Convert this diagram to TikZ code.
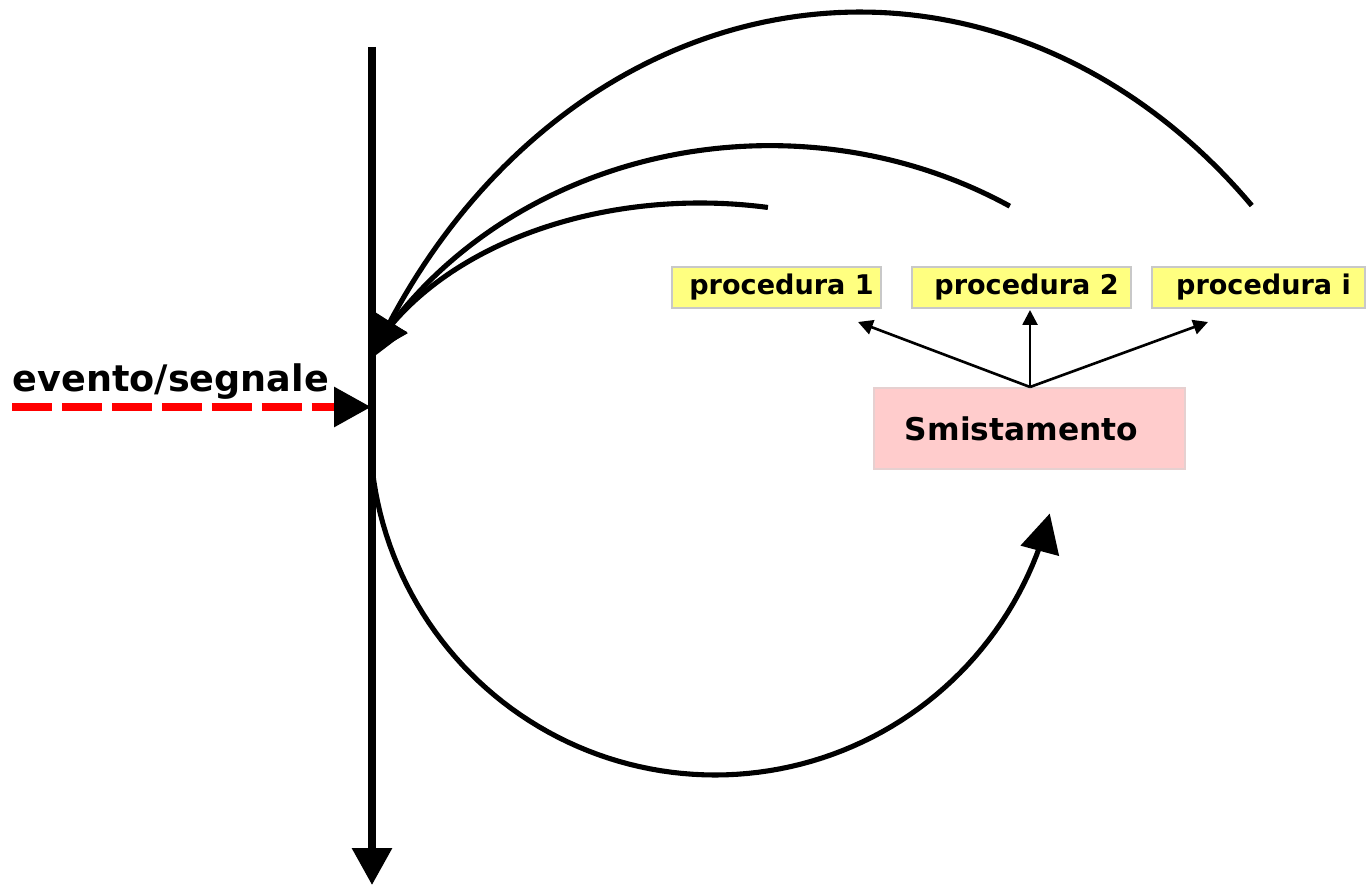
\documentclass[tikz,border=0pt]{standalone}
\usepackage{fontspec}
\setmainfont{DejaVu Sans}
\usetikzlibrary{arrows.meta}
\definecolor{procfill}{HTML}{FFFF80}
\definecolor{procline}{HTML}{C8C8C8}
\definecolor{smfill}{HTML}{FFCCCC}
\definecolor{smline}{HTML}{E6D0D0}
\begin{document}
\begin{tikzpicture}[x=0.01cm,y=-0.01cm,
  axisline/.style={line width=2pt,-{Triangle[length=10.5pt,width=11pt]}},
  loopline/.style={line width=1.45pt,-{Triangle[length=11pt,width=11pt]}},
  signal/.style={red,line width=2pt,dash pattern=on 11.4pt off 2.8pt,
    -{Triangle[length=10.5pt,width=11pt,color=black]}},
  thinarrow/.style={line width=0.75pt,-{Triangle[length=4.2pt,width=4.2pt]}},
  procbox/.style={draw=procline,fill=procfill,line width=0.6pt,inner sep=0pt,
    minimum height=0.41cm,font=\bfseries\fontsize{7.7}{9}\selectfont},
  smbox/.style={draw=smline,fill=smfill,line width=0.6pt,inner sep=0pt,
    minimum width=3.11cm,minimum height=0.81cm,font=\bfseries\fontsize{8.9}{10}\selectfont},
  lbl/.style={font=\bfseries\fontsize{10.4}{12}\selectfont,inner sep=0pt}]
\useasboundingbox (0,0) rectangle (1367,885);

% time axis
\coordinate (top) at (372,47);
\coordinate (bottom) at (372,885);
\draw[axisline] (top) -- (bottom);

% incoming event
\coordinate (sigstart) at (12,407);
\coordinate (sigend) at (371,407);
\draw[signal] (sigstart) -- (sigend);
\node[lbl,anchor=base west] (evt) at (12,391) {evento/segnale};

% dispatcher and procedures
\node[smbox] (sm) at (1029.5,428.5) {\hspace*{-0.16cm}Smistamento};
\node[procbox,minimum width=2.09cm] (p1) at (776.5,287.5) {\hspace*{0.1cm}procedura 1};
\node[procbox,minimum width=2.19cm] (p2) at (1021.5,287.5) {\hspace*{0.1cm}procedura 2};
\node[procbox,minimum width=2.13cm] (pi) at (1258.5,287.5) {\hspace*{0.1cm}procedura i};

\coordinate (fork) at (1030,387);
\coordinate (t1) at (858,322);
\coordinate (t2) at (1030,310);
\coordinate (t3) at (1208,322);
\draw[thinarrow] (fork) -- (t1);
\draw[thinarrow] (fork) -- (t2);
\draw[thinarrow] (fork) -- (t3);

% from the axis down and round to the dispatcher
\draw[loopline] plot[domain=185:346,samples=90] ({715+345*cos(\x)},{430-345*sin(\x)});

% returns from the procedures back to the axis (elliptic arcs)
\draw[loopline] plot[domain=45.4:151,samples=100] ({860+558*cos(\x)},{684-672*sin(\x)});
\draw[loopline] plot[domain=58.5:150.6,samples=90] ({770+459*cos(\x)},{556.6-411*sin(\x)});
\draw[loopline] plot[domain=79:158,samples=80] ({700+356*cos(\x)},{446-243*sin(\x)});
\end{tikzpicture}
\end{document}
